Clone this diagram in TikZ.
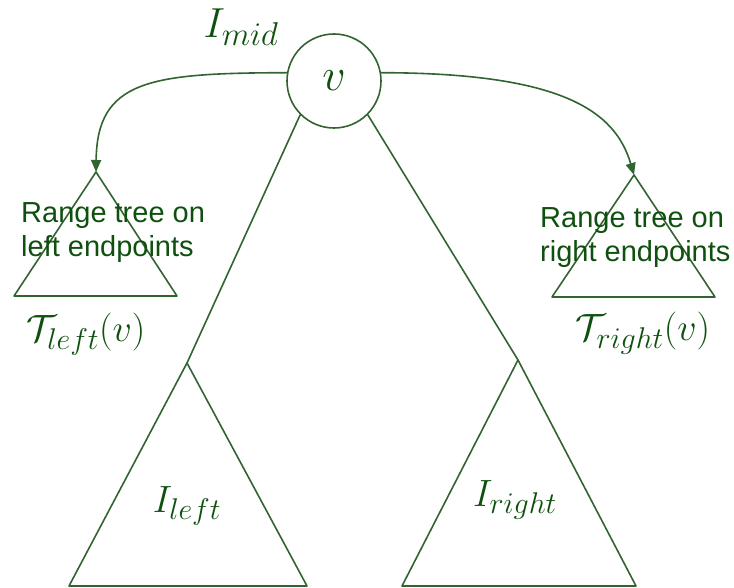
\RequirePackage{fix-cm}
\documentclass[tikz,border=0pt]{standalone}
\usepackage{fontspec}
\newfontfamily\arialfont{Liberation Sans}
\usetikzlibrary{arrows.meta}
\DeclareMathSizes{46}{46}{36}{28}
\DeclareMathSizes{42}{42}{33}{25}
\DeclareMathSizes{38}{38}{30}{23}
\definecolor{linegreen}{RGB}{50,100,50}
\definecolor{textgreen}{RGB}{15,80,15}
\tikzset{
  edge/.style={draw=linegreen, line width=1.6pt, line join=round},
  link/.style={draw=linegreen, line width=1.6pt, -{Triangle[length=12pt,width=10pt]}},
  vnode/.style={circle, draw=linegreen, line width=1.6pt, minimum size=94pt, inner sep=0pt, text=textgreen},
  mathlbl/.style={text=textgreen, inner sep=0pt},
  rangelbl/.style={text=textgreen, inner sep=0pt, align=left, font=\arialfont\fontsize{29}{34}\selectfont},
}
\begin{document}
\begin{tikzpicture}[x=1pt,y=-1pt]
\useasboundingbox (0,0) rectangle (734,588);
% root node
\node[vnode] (v) at (334,81) {\fontsize{46}{50}\selectfont$v$};
% apexes and base corners
\coordinate (la) at (187,363);
\coordinate (lb1) at (69,586);
\coordinate (lb2) at (307,586);
\coordinate (ra) at (518,360);
\coordinate (rb1) at (402,586);
\coordinate (rb2) at (636,586);
\coordinate (sla) at (96,172);
\coordinate (slb1) at (14,296);
\coordinate (slb2) at (177,296);
\coordinate (sra) at (634,175);
\coordinate (srb1) at (552,297);
\coordinate (srb2) at (715,297);
% big triangles
\draw[edge] (la) -- (lb1) -- (lb2) -- cycle;
\draw[edge] (ra) -- (rb1) -- (rb2) -- cycle;
% small triangles
\draw[edge] (sla) -- (slb1) -- (slb2) -- cycle;
\draw[edge] (sra) -- (srb1) -- (srb2) -- cycle;
% edges from root
\draw[edge] (v.225) -- (la);
\draw[edge] (v.-45) -- (ra);
% curved links
\draw[link] (v.170) .. controls (150,73) and (97,80) .. (sla);
\draw[link] (v.10) .. controls (560,73) and (615,110) .. (sra);
% labels
\node[mathlbl] (imid) at (241,27) {\fontsize{42}{46}\selectfont$I_{mid}$};
\node[mathlbl] (ileft) at (187,506) {\fontsize{38}{42}\selectfont$I_{left}$};
\node[mathlbl] (iright) at (515,500) {\fontsize{38}{42}\selectfont$I_{right}$};
\node[mathlbl] (tleft) at (86,334) {\fontsize{38}{42}\selectfont$\mathcal{T}_{left}(v)$};
\node[mathlbl] (tright) at (643,333) {\fontsize{38}{42}\selectfont$\mathcal{T}_{right}(v)$};
\node[rangelbl, anchor=north west] (rl) at (21,202) {Range tree on\\left endpoints};
\node[rangelbl, anchor=north west] (rr) at (540,207) {Range tree on\\right endpoints};
\end{tikzpicture}
\end{document}
